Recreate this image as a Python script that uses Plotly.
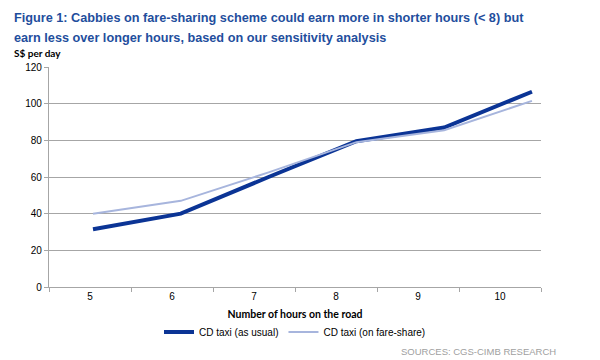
import plotly.graph_objects as go

hours = [5, 6, 7, 8, 9, 10]
hour_labels = ["5", "6", "7", "8", "9", "10"]
as_usual = [31.5, 40, 60, 79.5, 87, 106.5]
fare_share = [40, 47, 62.5, 79, 85.5, 101.5]

title_line1 = "<b>Figure 1: Cabbies on fare-sharing scheme could earn more in shorter hours (< 8) but</b>"
title_line2 = "<b>earn less over longer hours, based on our sensitivity analysis</b>"

fig = go.Figure()
# empty trace so the label axis is drawn
fig.add_trace(go.Scatter(x=[], y=[], showlegend=False, hoverinfo="skip", xaxis="x", yaxis="y"))
fig.add_trace(go.Scatter(x=hours, y=as_usual, mode="lines", name="CD taxi (as usual)",
                         line=dict(color="#0B3495", width=4), xaxis="x2"))
fig.add_trace(go.Scatter(x=hours, y=fare_share, mode="lines", name="CD taxi (on fare-share)",
                         line=dict(color="#A7B5DD", width=2), xaxis="x2"))

axis_grey = "#A6A6A6"
fig.update_layout(
    width=600, height=360,
    margin=dict(l=49, r=59, t=67, b=73),
    paper_bgcolor="white", plot_bgcolor="white",
    font=dict(family="Liberation Sans, Arial, sans-serif", size=10, color="#000"),
    showlegend=True,
    legend=dict(orientation="h", x=0.5, xanchor="center", y=-0.205, yanchor="middle",
                font=dict(size=10, family="Liberation Sans, Arial, sans-serif"),
                itemwidth=30, tracegroupgap=0, bgcolor="rgba(0,0,0,0)"),
    xaxis=dict(range=[4.5, 10.5], tickmode="array", tickvals=hours, ticktext=hour_labels,
               ticks="", showgrid=False, zeroline=False,
               showline=True, linecolor=axis_grey, linewidth=1.3,
               minor=dict(ticks="outside", tick0=4.5, dtick=1, ticklen=4, tickcolor=axis_grey, showgrid=False),
               tickfont=dict(size=10),
               title=dict(text="<b>Number of hours on the road</b>", standoff=9,
                          font=dict(size=10.5, family="Lato, sans-serif"))),
    xaxis2=dict(range=[4.499, 10.103], overlaying="x", visible=False, showgrid=False),
    yaxis=dict(range=[0, 120], dtick=20, showgrid=True, gridcolor=axis_grey, gridwidth=1.3,
               zeroline=False, showline=True, linecolor=axis_grey, linewidth=1.3,
               ticks="outside", ticklen=4, tickcolor=axis_grey, tickfont=dict(size=10)),
)

title_font = dict(family="Liberation Sans, Arial, sans-serif", size=12.7, color="#1F4E9D")
fig.add_annotation(text=title_line1, xref="paper", yref="paper", x=-37/492, y=1 + (67 - 18)/220,
                   xanchor="left", yanchor="middle", showarrow=False, font=title_font)
fig.add_annotation(text=title_line2, xref="paper", yref="paper", x=-37/492, y=1 + (67 - 38)/220,
                   xanchor="left", yanchor="middle", showarrow=False, font=title_font)
fig.add_annotation(text="<b>S$ per day</b>", xref="paper", yref="paper", x=-37/492, y=1 + 14/220,
                   xanchor="left", yanchor="middle", showarrow=False,
                   font=dict(family="Lato, sans-serif", size=10, color="#000"))
fig.add_annotation(text="SOURCES: CGS-CIMB RESEARCH", xref="paper", yref="paper",
                   x=(558 - 49) / 492, y=-(351 - 287) / 220, xanchor="right", yanchor="middle",
                   showarrow=False,
                   font=dict(family="Liberation Sans, Arial, sans-serif", size=9.5, color="#A0A0A0"))

fig.write_html("out.html", config={"displayModeBar": False},
               post_script="document.body.style.margin='0';document.body.style.padding='0';")
